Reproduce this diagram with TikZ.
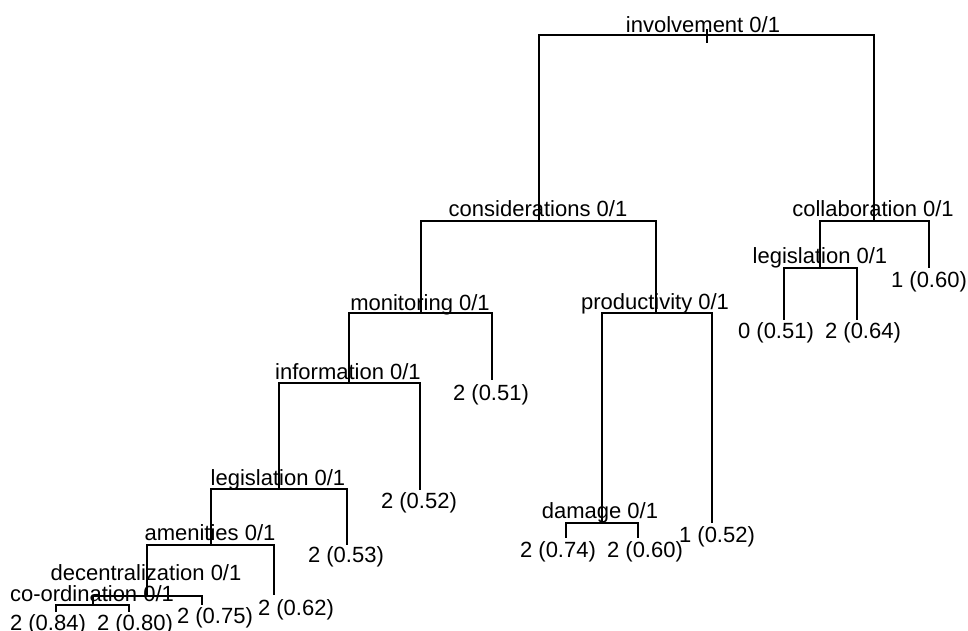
\documentclass[tikz,border=0pt]{standalone}
\usepackage{fontspec}
\setmainfont{Liberation Sans}
\begin{document}
\begin{tikzpicture}[x=1pt,y=-1pt,
  edge/.style={line width=1.5pt},
  lbl/.style={inner sep=0pt, anchor=base, font=\fontsize{22}{26}\selectfont}]
\useasboundingbox (0,0) rectangle (968,630);
% split points (stem positions on their bars)
\coordinate (inv) at (707,35);
\coordinate (invtop) at (707,29);
\coordinate (invbot) at (707,43);
\coordinate (con) at (539,221);
\coordinate (col) at (874,221);
\coordinate (mon) at (421,313);
\coordinate (pro) at (656,313);
\coordinate (legR) at (820,268);
\coordinate (inf) at (349,383);
\coordinate (dam) at (602,523);
\coordinate (legL) at (279,489);
\coordinate (ame) at (211,545);
\coordinate (dec) at (147,596);
\coordinate (coo) at (93,605);
% leaf ends
\coordinate (lf051) at (784,320);
\coordinate (lf064) at (857,320);
\coordinate (lf060a) at (929,268);
\coordinate (lf051b) at (492,380);
\coordinate (lf052) at (420,490);
\coordinate (lf053) at (347,545);
\coordinate (lf062) at (274,595);
\coordinate (lf075) at (202,605);
\coordinate (lf084) at (56,612);
\coordinate (lf080) at (129,612);
\coordinate (lf074) at (566,538);
\coordinate (lf060b) at (638,538);
\coordinate (lf052b) at (712,523);
% edges
\draw[edge] (invtop) -- (invbot);
\draw[edge] (inv) -| (con);
\draw[edge] (inv) -| (col);
\draw[edge] (con) -| (mon);
\draw[edge] (con) -| (pro);
\draw[edge] (col) -| (legR);
\draw[edge] (col) -| (lf060a);
\draw[edge] (legR) -| (lf051);
\draw[edge] (legR) -| (lf064);
\draw[edge] (mon) -| (inf);
\draw[edge] (mon) -| (lf051b);
\draw[edge] (pro) -| (dam);
\draw[edge] (pro) -| (lf052b);
\draw[edge] (dam) -| (lf074);
\draw[edge] (dam) -| (lf060b);
\draw[edge] (inf) -| (legL);
\draw[edge] (inf) -| (lf052);
\draw[edge] (legL) -| (ame);
\draw[edge] (legL) -| (lf053);
\draw[edge] (ame) -| (dec);
\draw[edge] (ame) -| (lf062);
\draw[edge] (dec) -| (coo);
\draw[edge] (dec) -| (lf075);
\draw[edge] (coo) -| (lf084);
\draw[edge] (coo) -| (lf080);
% split labels
\node[lbl] (tinv) at (703,32) {involvement 0/1};
\node[lbl] (tcon) at (538,216) {considerations 0/1};
\node[lbl] (tcol) at (873,216) {collaboration 0/1};
\node[lbl] (tlegR) at (820,263) {legislation 0/1};
\node[lbl] (tmon) at (420,310) {monitoring 0/1};
\node[lbl] (tpro) at (655,309) {productivity 0/1};
\node[lbl] (tinf) at (348,379) {information 0/1};
\node[lbl] (tdam) at (600,518) {damage 0/1};
\node[lbl] (tlegL) at (278,485) {legislation 0/1};
\node[lbl] (tame) at (210,540) {amenities 0/1};
\node[lbl] (tdec) at (146,580) {decentralization 0/1};
\node[lbl] (tcoo) at (92,601) {co-ordination 0/1};
% leaf labels
\node[lbl] (t051) at (776,338) {0 (0.51)};
\node[lbl] (t064) at (863,338) {2 (0.64)};
\node[lbl] (t060a) at (929,287) {1 (0.60)};
\node[lbl] (t051b) at (491,400) {2 (0.51)};
\node[lbl] (t052) at (419,508) {2 (0.52)};
\node[lbl] (t053) at (346,562) {2 (0.53)};
\node[lbl] (t062) at (296,615) {2 (0.62)};
\node[lbl] (t075) at (215,623) {2 (0.75)};
\node[lbl] (t084) at (48,630) {2 (0.84)};
\node[lbl] (t080) at (135,630) {2 (0.80)};
\node[lbl] (t074) at (558,557) {2 (0.74)};
\node[lbl] (t060b) at (645,557) {2 (0.60)};
\node[lbl] (t052b) at (717,542) {1 (0.52)};
\end{tikzpicture}
\end{document}
